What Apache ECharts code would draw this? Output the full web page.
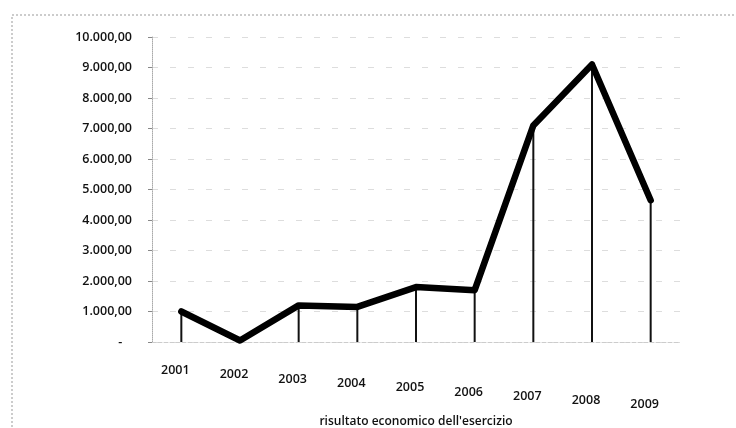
<!DOCTYPE html>
<html><head><meta charset="utf-8">
<script src="https://cdn.jsdelivr.net/npm/echarts@6/dist/echarts.min.js"></script>
<style>html,body{margin:0;padding:0;background:#fff}#c{width:736px;height:428px}</style>
</head><body><div id="c"></div>
<script>
const years = ['2001','2002','2003','2004','2005','2006','2007','2008','2009'];
const risultato = [1000, 50, 1200, 1150, 1800, 1700, 7100, 9100, 4650];
const yTicks = [0, 1000, 2000, 3000, 4000, 5000, 6000, 7000, 8000, 9000, 10000];
const axisTitle = "risultato economico dell'esercizio";

function fmtIt(v){
  if (v === 0) return '-   ';
  const s = Math.round(v).toString().replace(/\B(?=(\d{3})+(?!\d))/g, '.');
  return s + ',00';
}
const rich = {};
years.forEach((y,i)=>{ rich['l'+i] = {padding:[Math.round(i*4.3),12,0,0], fontSize:12.5, fontWeight:600, color:'#111', fontFamily:'Open Sans'}; });

const chart = echarts.init(document.getElementById('c'), null, {renderer:'canvas'});
chart.setOption({
  animation:false,
  backgroundColor:'#fff',
  textStyle:{fontFamily:'Open Sans'},
  graphic:[{type:'rect', shape:{x:12,y:15,width:740,height:430}, style:{fill:'none', stroke:'#999', lineWidth:1, lineDash:[2,2]}}],
  grid:{left:152, width:528, top:37, bottom:86, containLabel:false, outerBoundsMode:'none'},
  xAxis:{type:'category', data:years, boundaryGap:true,
    axisLine:{show:true, lineStyle:{color:'#ccc', type:'dashed', width:1}},
    axisTick:{show:false},
    axisLabel:{interval:0, hideOverlap:false, margin:22, formatter:(v,i)=>'{l'+i+'|'+v+'}', rich:rich},
    name:axisTitle, nameLocation:'middle', nameGap:74,
    nameTextStyle:{fontSize:12, fontWeight:600, color:'#111', fontFamily:'Open Sans'}
  },
  yAxis:{type:'value', min:yTicks[0], max:yTicks[yTicks.length-1], interval:1000,
    axisLine:{show:true, lineStyle:{color:'#aaa', type:'dotted', width:1}},
    axisTick:{show:true, length:4, lineStyle:{color:'#888'}},
    axisLabel:{formatter:fmtIt, fontSize:12.5, fontWeight:600, color:'#111', margin:20, fontFamily:'Open Sans'},
    splitLine:{show:true, lineStyle:{color:'#ddd', type:[6,12], width:1}}
  },
  series:[
    {type:'bar', data:risultato, barWidth:2, itemStyle:{color:'#111'}, barGap:'-100%', z:2, silent:true},
    {type:'line', data:risultato, symbol:'none', lineStyle:{color:'#000', width:6.5, join:'round', cap:'round'}, z:3}
  ]
});
</script></body></html>
